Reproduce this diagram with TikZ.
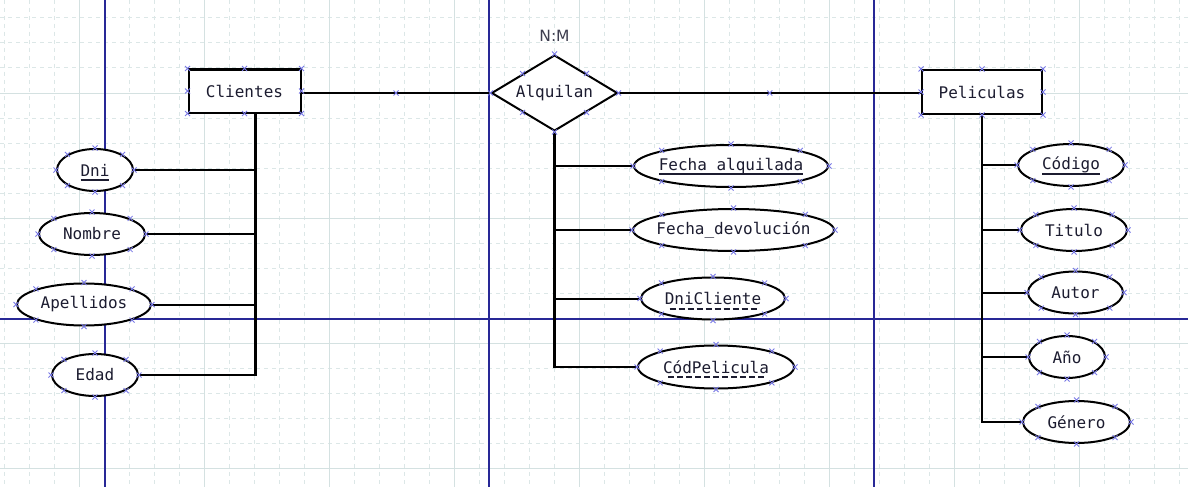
\documentclass[tikz,border=0pt]{standalone}
\usepackage{fontspec}
\newfontfamily\ermono{DejaVu Sans Mono}
\newfontfamily\ersans{DejaVu Sans}
\usetikzlibrary{positioning,shapes.geometric,calc}
\definecolor{gridmajor}{RGB}{212,225,225}
\definecolor{gridminor}{RGB}{220,231,231}
\definecolor{guideblue}{RGB}{40,40,150}
\definecolor{handleblue}{RGB}{120,120,230}
\definecolor{ertext}{RGB}{28,28,48}
% key attributes: solid underline (own key) or dashed underline (foreign key)
\newsavebox{\keybox}
\newcommand{\pkey}[1]{\sbox{\keybox}{#1}\rlap{\usebox{\keybox}}%
  \smash{\rule[-5pt]{\wd\keybox}{2pt}}}
\newcommand{\fkey}[1]{\sbox{\keybox}{#1}\rlap{\usebox{\keybox}}%
  \smash{\raisebox{-5pt}{\hbox to \wd\keybox{\cleaders\hbox{\hskip1.5pt\rule{6pt}{2pt}\hskip1.5pt}\hfill}}}}
% little connection handles round a node
\newcommand{\handles}[1]{%
  \foreach \an in {north,north east,east,south east,south,south west,west,north west}
    \draw[handle] (#1.\an) +(-2.5,-2.5) -- +(2.5,2.5) +(-2.5,2.5) -- +(2.5,-2.5);}
\tikzset{
  erfont/.style={font=\ermono\fontsize{16}{19}\selectfont, text=ertext},
  entity/.style={draw, rectangle, fill=white, line width=2pt, minimum height=43pt,
                 inner sep=0pt, erfont},
  relation/.style={draw, diamond, aspect=1.66, fill=white, line width=2pt,
                   minimum width=126pt, minimum height=76pt, inner sep=0pt, erfont},
  attr/.style={draw, ellipse, fill=white, line width=2pt, minimum height=42pt,
               inner xsep=-8pt, inner ysep=0pt, erfont},
  link/.style={line width=2pt, draw=black},
  trunk/.style={link, line width=2.4pt},
  handle/.style={draw=handleblue, line width=0.8pt},
  guide/.style={draw=guideblue, line width=1.2pt},
  minorgrid/.style={draw=gridminor, line width=1pt, dash pattern=on 4pt off 4pt},
  majorgrid/.style={draw=gridmajor, line width=1pt},
  card/.style={font=\ersans\fontsize{15.5}{18}\selectfont, text=ertext!85},
}
\begin{document}
\begin{tikzpicture}[x=1pt, y=-1pt]
\useasboundingbox (0,0) rectangle (1188,487);
\fill[white] (0,0) rectangle (1188,487);

% ============================ canvas =================================
\foreach \gx in {4,29,...,1188} \draw[minorgrid] (\gx,0) -- (\gx,487);
\foreach \gy in {18,43,...,487} \draw[minorgrid] (0,\gy) -- (1188,\gy);
\foreach \gx in {79,204,...,1188} \draw[majorgrid] (\gx,0) -- (\gx,487);
\foreach \gy in {93,218,...,487} \draw[majorgrid] (0,\gy) -- (1188,\gy);
\foreach \gx in {105,489,874} \draw[guide] (\gx,0) -- (\gx,487);
\draw[guide] (0,319) -- (1188,319);

% ============================ entities and relation ==================
\node[entity, minimum width=112pt] (cli) at (244.5,91) {Clientes};
\node[relation] (rel) at (554.5,93) {Alquilan};
\node[entity, minimum width=120pt, minimum height=44pt] (pel) at (982,92) {Peliculas};
\node[card, above=9pt of rel] (card) {N:M};

% ============================ attributes =============================
\node[attr, minimum width=76pt]  (dni)       at (95,170)    {\pkey{Dni}};
\node[attr, minimum width=106pt] (nombre)    at (92,234)    {Nombre};
\node[attr, minimum width=134pt] (apellidos) at (84,304.5)  {Apellidos};
\node[attr, minimum width=86pt]  (edad)      at (95,375)    {Edad};

\node[attr, minimum width=194pt] (falq) at (731,166)   {\pkey{Fecha\_alquilada}};
\node[attr, minimum width=201pt] (fdev) at (733.5,230) {Fecha\_devolución};
\node[attr, minimum width=144pt] (dnic) at (713,298.5) {\fkey{DniCliente}};
\node[attr, minimum width=156pt, minimum height=43pt] (codp) at (716,367) {\fkey{CódPelicula}};

\node[attr, minimum width=106pt] (codigo) at (1071,165)    {\pkey{Código}};
\node[attr, minimum width=106pt] (titulo) at (1074,230)    {Titulo};
\node[attr, minimum width=95pt]  (autor)  at (1075.5,292.5) {Autor};
\node[attr, minimum width=76pt]  (anio)   at (1067,357)    {Año};
\node[attr, minimum width=107pt] (genero) at (1076.5,422)  {Género};

% ============================ connectors =============================
\draw[link] (rel.west) -- coordinate (mid1) (rel.west -| cli.east);
\draw[link] (rel.east) -- coordinate (mid2) (rel.east -| pel.west);

\coordinate (cliBus) at ([xshift=11pt]cli.south);
\draw[trunk] (cliBus) |- (edad.east);
\foreach \a in {dni,nombre,apellidos} \draw[link] (\a.east) -- (\a.east -| cliBus);

\draw[trunk] (rel.south) |- (codp.west);
\foreach \a in {falq,fdev,dnic} \draw[link] (\a.west) -- (\a.west -| rel.south);

\draw[trunk] (pel.south) |- (genero.west);
\foreach \a in {codigo,titulo,autor,anio} \draw[link] (\a.west) -- (\a.west -| pel.south);

% ============================ handles ================================
\foreach \n in {cli,rel,pel,dni,nombre,apellidos,edad,falq,fdev,dnic,codp,
                codigo,titulo,autor,anio,genero} {\handles{\n}}
\foreach \m in {mid1,mid2}
  \draw[handle] (\m) +(-2.5,-2.5) -- +(2.5,2.5) +(-2.5,2.5) -- +(2.5,-2.5);

\end{tikzpicture}
\end{document}
